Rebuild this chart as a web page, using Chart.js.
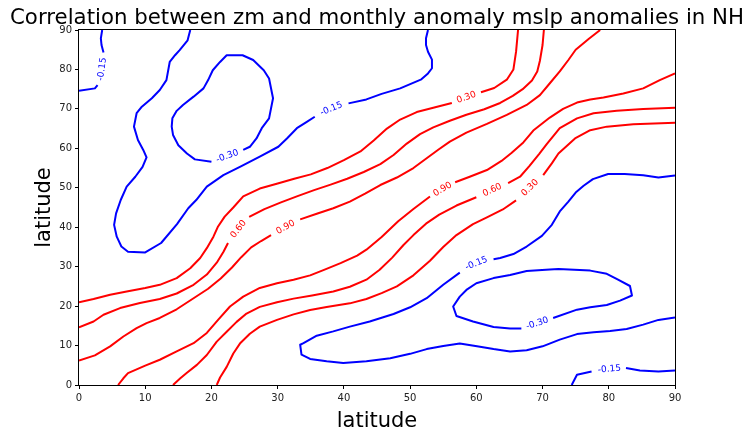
<!DOCTYPE html>
<html>
<head>
<meta charset="utf-8">
<script src="https://cdn.jsdelivr.net/npm/chart.js@4.4.1/dist/chart.umd.min.js"></script>
<style>
  html, body { margin: 0; padding: 0; background: #fff; }
</style>
</head>
<body>
<canvas id="chart" width="746" height="432"></canvas>
<script>
const tickValues = [0, 10, 20, 30, 40, 50, 60, 70, 80, 90];

// contour paths as [x, y]; null = gap where the inline label sits
// -0.15 (blue)
const negTopLeft = [[3.5, 90], [3.3, 87.9], [3.4, 86.2], [3.7, 84.3], null, [2.8, 76.0], [2.4, 75.2], [0, 74.6]];
const negUpper = [
  [16.8, 90], [16.4, 87.4], [15.2, 84.9], [14.5, 83.6], [13.7, 81.9], [13.2, 77.3], [12.2, 74.8], [11.0, 72.7],
  [9.4, 70.4], [8.7, 68.9], [8.3, 65.5], [8.9, 62.1], [9.7, 59.6], [10.2, 57.7], [9.6, 55.3], [8.5, 52.8],
  [7.2, 50.3], [6.3, 46.9], [5.6, 43.5], [5.3, 40.6], [5.7, 37.6], [6.4, 35.1], [7.4, 33.8], [10.0, 33.6],
  [12.4, 36.0], [14.8, 40.8], [16.5, 44.8], [17.7, 46.9], [19.3, 50.3], [21.8, 53.2], [24.3, 55.3], [27.3, 57.9],
  [30.1, 60.4], [31.4, 62.5], [32.9, 65.1], [34.4, 66.7], [35.6, 68.0], null,
  [40.7, 71.4], [43.4, 72.4], [45.7, 73.8], [48.5, 75.2], [51.7, 77.5], [52.7, 79.0], [53.3, 80.3], [53.3, 82.5],
  [52.7, 84.5], [52.4, 86.2], [52.4, 87.9], [52.7, 90]
];
const negLower = [
  [90, 53.1], [87.5, 52.6], [85.2, 53.2], [82.4, 53.5], [79.9, 53.5], [77.6, 52.2], [76.2, 50.5], [75.0, 48.8],
  [73.9, 46.5], [72.6, 44.0], [71.4, 40.6], [69.9, 37.8], [67.6, 35.1], [65.6, 33.2], [63.6, 32.2], [62.6, 31.9], null,
  [57.5, 28.5], [55.0, 25.4], [52.5, 22.0], [50.0, 19.7], [47.5, 18.0], [43.9, 16.1], [40.9, 14.8], [38.4, 13.6],
  [35.9, 12.5], [33.9, 10.6], [33.4, 10.2], [33.6, 7.7], [34.9, 6.6], [37.4, 6.0], [39.9, 5.6], [43.4, 6.0],
  [47.0, 6.8], [50.0, 7.9], [52.5, 9.1], [55.0, 9.9], [57.5, 10.5], [60.1, 9.8], [62.6, 9.1], [65.1, 8.5],
  [67.6, 8.8], [70.0, 9.8], [72.6, 11.5], [75.2, 12.9], [77.7, 13.4], [80.2, 13.7], [82.7, 14.2], [85.2, 15.3],
  [87.5, 16.5], [90, 17.1]
];
const negBottomRight = [[74.4, 0], [75.2, 2.6], [77.4, 3.4], null, [82.6, 4.3], [84.7, 3.7], [87.5, 3.4], [90, 3.7]];

// -0.30 (blue)
const neg30Upper = [
  [20.0, 56.6], [17.5, 57.2], [16.3, 58.7], [15.0, 60.8], [14.2, 63.4], [14.0, 65.5], [14.1, 67.6], [14.75, 69.5],
  [15.7, 71.0], [17.3, 73.1], [18.8, 75.2], [19.5, 77.3], [20.2, 79.8], [21.3, 81.9], [22.3, 83.6], [24.7, 83.6],
  [26.3, 82.4], [27.9, 79.8], [28.7, 77.7], [29.3, 72.7], [28.7, 67.6], [27.6, 65.1], [26.8, 62.5], [25.8, 60.4],
  [24.8, 59.6]
];
const neg30Lower = [
  [66.8, 14.3], [65.1, 14.3], [62.6, 14.7], [59.5, 16.1], [57.0, 17.5], [56.5, 19.9], [57.5, 22.4], [58.5, 24.1],
  [60.0, 25.8], [62.6, 27.1], [65.1, 27.9], [67.6, 28.9], [71.1, 29.3], [72.4, 29.4], [77.2, 29.0], [79.7, 28.2],
  [81.4, 26.7], [83.2, 25.1], [83.5, 22.7], [81.7, 21.4], [79.7, 20.3], [77.2, 19.7], [75.2, 19.1], [71.6, 17.0]
];

// 0.30 / 0.60 / 0.90 (red)
const pos30Upper = [
  [0, 21.0], [2.2, 21.8], [4.7, 22.9], [7.2, 23.7], [10.0, 24.6], [12.2, 25.4], [14.75, 27.1], [16.8, 29.6],
  [18.3, 32.2], [19.3, 34.7], [20.3, 37.6], [21.0, 40.2], [22.0, 42.7], [23.3, 45.0], [24.8, 47.8], [27.3, 49.8],
  [30.0, 51.1], [32.5, 52.3], [35.0, 53.4], [37.5, 55.0], [40.0, 57.0], [42.5, 59.2], [44.5, 62.0], [46.5, 65.0],
  [48.5, 67.3], [51.0, 69.2], [53.5, 70.3], [56.3, 71.5], null,
  [60.7, 74.2], [62.7, 75.3], [64.6, 77.4], [65.6, 80.0], [66.0, 84.5], [66.3, 90]
];
const pos60Upper = [
  [0, 14.6], [2.2, 16.1], [3.7, 17.8], [6.2, 19.5], [9.2, 20.8], [12.2, 21.8], [14.75, 23.2], [17.3, 25.4],
  [19.3, 28.0], [20.8, 31.0], [21.8, 33.7], [22.5, 36.0], null,
  [25.7, 42.6], [28.0, 44.6], [30.5, 46.3], [33.0, 47.9], [35.5, 49.4], [38.0, 50.8], [40.5, 52.3], [43.0, 54.0],
  [45.5, 56.0], [47.5, 58.3], [49.5, 61.2], [51.5, 63.6], [53.5, 65.3], [56.0, 67.0], [58.5, 68.5], [61.2, 69.9],
  [63.6, 71.5], [65.5, 73.3], [67.0, 75.0], [68.4, 77.2], [69.2, 79.5], [69.6, 82.2], [70.0, 86.2], [70.2, 90]
];
const pos90Upper = [
  [0, 6.2], [2.4, 7.5], [4.7, 9.8], [6.7, 12.3], [8.7, 14.4], [10.2, 15.7], [12.2, 17.0], [14.75, 19.2],
  [17.3, 22.0], [19.5, 24.4], [21.4, 27.0], [23.1, 29.8], [24.5, 32.4], [26.0, 34.9], [27.5, 36.5], [29.0, 38.0], null,
  [33.4, 42.0], [35.9, 43.4], [38.4, 44.8], [40.9, 46.5], [43.2, 48.5], [45.5, 50.7], [48.0, 52.6], [50.5, 55.0],
  [52.5, 57.5], [54.3, 59.7], [56.0, 61.7], [58.5, 64.0], [61.6, 66.2], [64.6, 68.5], [67.6, 71.0], [69.6, 73.5],
  [71.1, 76.5], [72.6, 79.5], [73.9, 82.4], [75.0, 85.0], [77.0, 87.8], [78.7, 90]
];
const pos90Lower = [
  [5.9, 0], [6.7, 1.7], [7.4, 3.0], [10.0, 4.9], [12.2, 6.4], [14.75, 8.5], [17.3, 10.6], [19.3, 13.2],
  [21.0, 16.5], [22.8, 19.9], [24.8, 22.4], [27.3, 24.6], [29.9, 25.8], [32.4, 26.7], [34.9, 27.8], [37.0, 29.2],
  [39.5, 30.9], [42.0, 32.8], [43.4, 34.3], [45.7, 37.5], [48.2, 41.5], [50.5, 44.6], [53.0, 47.8], null,
  [56.8, 51.4], [59.0, 52.8], [61.6, 54.5], [63.8, 56.8], [65.3, 58.8], [67.1, 61.5], [68.6, 64.5], [71.1, 67.8],
  [73.1, 70.0], [75.2, 71.6], [77.2, 72.4], [79.2, 72.9], [82.2, 73.9], [85.2, 75.2], [87.7, 77.3], [90, 79.0]
];
const pos60Lower = [
  [14.2, 0], [15.3, 1.7], [16.3, 3.1], [17.8, 5.1], [19.3, 7.6], [20.8, 11.0], [22.3, 13.5], [23.8, 16.0],
  [25.3, 18.1], [27.3, 19.8], [29.9, 21.0], [32.4, 21.9], [35.2, 22.7], [38.4, 23.7], [40.9, 24.9], [43.4, 26.7],
  [45.4, 29.2], [47.3, 32.3], [49.0, 35.5], [50.5, 38.0], [52.4, 40.9], [54.4, 43.2], [57.0, 45.5], [60.0, 47.6], null,
  [64.8, 51.2], [66.6, 52.8], [68.0, 55.5], [69.5, 58.6], [70.6, 61.0], [72.6, 65.1], [75.2, 67.6], [77.7, 68.9],
  [81.2, 69.5], [85.2, 70.0], [90, 70.3]
];
const pos30Lower = [
  [20.8, 0], [21.3, 1.9], [22.3, 4.6], [23.3, 8.0], [24.3, 10.5], [25.8, 13.0], [27.3, 14.8], [29.9, 16.5],
  [32.4, 17.9], [34.9, 19.0], [37.4, 19.8], [40.9, 20.7], [43.4, 21.8], [45.7, 23.3], [48.0, 25.0], [50.5, 27.8],
  [53.0, 31.5], [55.0, 35.0], [57.0, 38.0], [59.5, 40.8], [61.6, 42.5], [64.0, 44.5], [66.0, 46.8], null,
  [70.1, 53.2], [71.4, 56.2], [72.4, 58.7], [74.9, 62.5], [77.2, 64.6], [79.7, 65.5], [83.7, 66.1], [90, 66.5]
];

// inline contour labels: [x, y, text, angle]
const negLabels = [
  [3.5, 80.1, '-0.15', -82], [38.1, 70.0, '-0.15', -22], [22.4, 58.0, '-0.30', -20],
  [60.0, 30.8, '-0.15', -22], [69.2, 15.6, '-0.30', -18], [80.1, 4.0, '-0.15', -5]
];
const posLabels = [
  [58.5, 72.9, '0.30', -20], [24.1, 39.5, '0.60', -52], [31.2, 40.0, '0.90', -29],
  [54.9, 49.6, '0.90', -31], [62.4, 49.4, '0.60', -25], [68.1, 50.0, '0.30', -44]
];

const negLines = [negTopLeft, negUpper, negLower, negBottomRight, neg30Upper, neg30Lower];
const posLines = [pos30Upper, pos60Upper, pos90Upper, pos90Lower, pos60Lower, pos30Lower];

const toPoints = (arr) => arr.map((p) => (p ? { x: p[0], y: p[1] } : { x: null, y: null }));

const lineSet = (arr, color) => ({
  data: toPoints(arr),
  showLine: true,
  spanGaps: false,
  borderColor: color,
  borderWidth: 2,
  borderJoinStyle: 'round',
  pointRadius: 0,
  pointHoverRadius: 0,
  tension: 0,
  fill: false,
});

const FONT = "'DejaVu Sans', 'Liberation Sans', sans-serif";

const decorations = {
  id: 'decorations',
  afterDatasetsDraw(chart) {
    const { ctx, chartArea, scales } = chart;
    const drawLabels = (list, color) => {
      for (const [x, y, text, angle] of list) {
        ctx.save();
        ctx.translate(scales.x.getPixelForValue(x), scales.y.getPixelForValue(y));
        ctx.rotate((angle * Math.PI) / 180);
        ctx.font = '9px ' + FONT;
        ctx.fillStyle = color;
        ctx.textAlign = 'center';
        ctx.textBaseline = 'middle';
        ctx.fillText(text, 0, 0);
        ctx.restore();
      }
    };
    drawLabels(negLabels, 'blue');
    drawLabels(posLabels, 'red');
  },
  afterDraw(chart) {
    const { ctx, chartArea } = chart;
    const { left, right, top, bottom } = chartArea;
    ctx.save();
    ctx.strokeStyle = '#000';
    ctx.lineWidth = 1;
    ctx.strokeRect(left - 0.5, top - 0.5, right - left + 1, bottom - top + 1);

    const cx = (left + right) / 2;
    ctx.fillStyle = '#000';
    ctx.textAlign = 'center';
    ctx.textBaseline = 'alphabetic';
    ctx.font = '21.3px ' + FONT;
    ctx.fillText('Correlation between zm and monthly anomaly mslp anomalies in NH', cx, 24);

    ctx.font = '21px ' + FONT;
    ctx.fillText('latitude', cx, 427);

    ctx.translate(50, (top + bottom) / 2);
    ctx.rotate(-Math.PI / 2);
    ctx.fillText('latitude', 0, 0);
    ctx.restore();
  },
};

const axis = (size) => ({
  type: 'linear',
  min: 0,
  max: 90,
  afterBuildTicks: (scale) => {
    scale.ticks = tickValues.map((v) => ({ value: v }));
  },
  afterFit: (scale) => {
    if (scale.axis === 'x') scale.height = size;
    else scale.width = size;
  },
  ticks: {
    color: '#222',
    font: { family: FONT, size: 10 },
    padding: 3,
    maxRotation: 0,
    autoSkip: false,
  },
  grid: {
    drawOnChartArea: false,
    drawTicks: true,
    tickLength: 4,
    color: '#000',
  },
  border: { display: false },
});

new Chart(document.getElementById('chart'), {
  type: 'scatter',
  data: {
    datasets: [
      ...posLines.map((l) => lineSet(l, 'red')),
      ...negLines.map((l) => lineSet(l, 'blue')),
    ],
  },
  options: {
    responsive: false,
    animation: false,
    devicePixelRatio: 1,
    layout: { padding: { top: 30, right: 71, bottom: 0, left: 0 } },
    plugins: {
      legend: { display: false },
      tooltip: { enabled: false },
      title: { display: false },
    },
    scales: {
      x: axis(47),
      y: axis(79),
    },
  },
  plugins: [decorations],
});
</script>
</body>
</html>
